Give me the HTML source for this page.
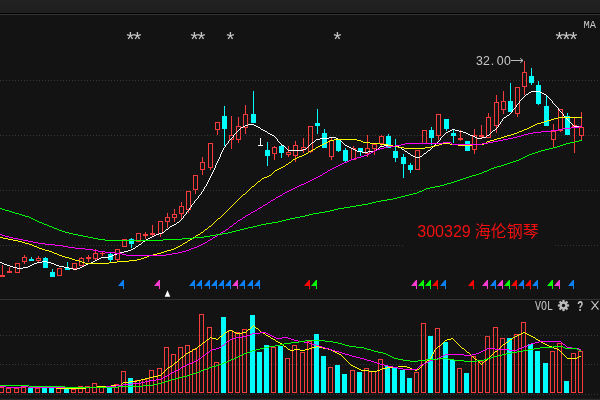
<!DOCTYPE html><html><head><meta charset="utf-8"><title>300329 海伦钢琴</title><style>html,body{margin:0;padding:0;background:#131313;overflow:hidden}svg{display:block}text{font-family:"Liberation Mono","Noto Sans CJK SC",monospace}</style></head><body>
<svg width="600" height="400" viewBox="0 0 600 400">
<defs><linearGradient id="tb" x1="0" y1="0" x2="0" y2="1"><stop offset="0" stop-color="#222"/><stop offset="1" stop-color="#1f1f1f"/></linearGradient></defs>
<rect x="0" y="0" width="600" height="400" fill="#131313"/>
<rect x="0" y="0" width="600" height="13" fill="url(#tb)"/>
<rect x="0" y="13" width="600" height="1" fill="#000"/>
<rect x="0" y="14" width="600" height="1" fill="#323232"/>
<rect x="0" y="299" width="600" height="1" fill="#333"/>
<rect x="0" y="398.7" width="600" height="1.3" fill="#2a2a2a"/>
<g stroke="#363636" stroke-width="1" stroke-dasharray="1 2" shape-rendering="crispEdges">
<path d="M0 80.5H600"/>
<path d="M0 135.5H600"/>
<path d="M0 190.5H600"/>
<path d="M0 245.5H404M555 245.5H600"/>
<path d="M0 335.5H600"/>
<path d="M0 364.5H600"/>
<path d="M0 394.5H600"/>
</g>
<g shape-rendering="crispEdges">
<rect x="2" y="265" width="1" height="12" fill="#f83c3c"/>
<rect x="0" y="275" width="5" height="2" fill="#f83c3c"/>
<rect x="9" y="267" width="1" height="6" fill="#f83c3c"/>
<rect x="7" y="271" width="5" height="2" fill="#f83c3c"/>
<rect x="15.5" y="263.5" width="4" height="9" fill="none" stroke="#f83c3c" stroke-width="1"/>
<rect x="24" y="255" width="1" height="2" fill="#f83c3c"/>
<rect x="24" y="262" width="1" height="2" fill="#f83c3c"/>
<rect x="22.5" y="257.5" width="4" height="4" fill="none" stroke="#f83c3c" stroke-width="1"/>
<rect x="31" y="257" width="1" height="4" fill="#00ffff"/>
<rect x="29" y="259" width="5" height="2" fill="#00ffff"/>
<rect x="38" y="256" width="1" height="2" fill="#f83c3c"/>
<rect x="38" y="261" width="1" height="2" fill="#f83c3c"/>
<rect x="36.5" y="258.5" width="4" height="2" fill="none" stroke="#f83c3c" stroke-width="1"/>
<rect x="45" y="257" width="1" height="11" fill="#00ffff"/>
<rect x="43" y="258" width="5" height="10" fill="#00ffff"/>
<rect x="52" y="269" width="1" height="8" fill="#00ffff"/>
<rect x="50" y="272" width="5" height="5" fill="#00ffff"/>
<rect x="57.5" y="268.5" width="4" height="7" fill="none" stroke="#f83c3c" stroke-width="1"/>
<rect x="67" y="262" width="1" height="8" fill="#00ffff"/>
<rect x="65" y="268" width="5" height="2" fill="#00ffff"/>
<rect x="72.5" y="263.5" width="4" height="5" fill="none" stroke="#f83c3c" stroke-width="1"/>
<rect x="81" y="257" width="1" height="1" fill="#f83c3c"/>
<rect x="79.5" y="258.5" width="4" height="7" fill="none" stroke="#f83c3c" stroke-width="1"/>
<rect x="88" y="255" width="1" height="7" fill="#f83c3c"/>
<rect x="86" y="257" width="5" height="2" fill="#f83c3c"/>
<rect x="95" y="249" width="1" height="4" fill="#f83c3c"/>
<rect x="95" y="259" width="1" height="1" fill="#f83c3c"/>
<rect x="93.5" y="253.5" width="4" height="5" fill="none" stroke="#f83c3c" stroke-width="1"/>
<rect x="102" y="252" width="1" height="4" fill="#f83c3c"/>
<rect x="100" y="253" width="5" height="1" fill="#f83c3c"/>
<rect x="110" y="252" width="1" height="10" fill="#00ffff"/>
<rect x="108" y="254" width="5" height="6" fill="#00ffff"/>
<rect x="117" y="260" width="1" height="1" fill="#f83c3c"/>
<rect x="115.5" y="249.5" width="4" height="10" fill="none" stroke="#f83c3c" stroke-width="1"/>
<rect x="122.5" y="239.5" width="4" height="7" fill="none" stroke="#f83c3c" stroke-width="1"/>
<rect x="131" y="238" width="1" height="10" fill="#00ffff"/>
<rect x="129" y="239" width="5" height="5" fill="#00ffff"/>
<rect x="138" y="242" width="1" height="0" fill="#f83c3c"/>
<rect x="136.5" y="233.5" width="4" height="8" fill="none" stroke="#f83c3c" stroke-width="1"/>
<rect x="145" y="232" width="1" height="7" fill="#f83c3c"/>
<rect x="143" y="234" width="5" height="2" fill="#f83c3c"/>
<rect x="152" y="225" width="1" height="11" fill="#f83c3c"/>
<rect x="150" y="233" width="5" height="2" fill="#f83c3c"/>
<rect x="160" y="234" width="1" height="3" fill="#f83c3c"/>
<rect x="158.5" y="221.5" width="4" height="12" fill="none" stroke="#f83c3c" stroke-width="1"/>
<rect x="167" y="213" width="1" height="4" fill="#f83c3c"/>
<rect x="167" y="222" width="1" height="6" fill="#f83c3c"/>
<rect x="165.5" y="217.5" width="4" height="4" fill="none" stroke="#f83c3c" stroke-width="1"/>
<rect x="174" y="209" width="1" height="5" fill="#f83c3c"/>
<rect x="174" y="218" width="1" height="4" fill="#f83c3c"/>
<rect x="172.5" y="214.5" width="4" height="3" fill="none" stroke="#f83c3c" stroke-width="1"/>
<rect x="181" y="202" width="1" height="4" fill="#f83c3c"/>
<rect x="181" y="214" width="1" height="6" fill="#f83c3c"/>
<rect x="179.5" y="206.5" width="4" height="7" fill="none" stroke="#f83c3c" stroke-width="1"/>
<rect x="188" y="210" width="1" height="3" fill="#f83c3c"/>
<rect x="186.5" y="191.5" width="4" height="18" fill="none" stroke="#f83c3c" stroke-width="1"/>
<rect x="195" y="190" width="1" height="4" fill="#f83c3c"/>
<rect x="193.5" y="175.5" width="4" height="14" fill="none" stroke="#f83c3c" stroke-width="1"/>
<rect x="202" y="157" width="1" height="5" fill="#f83c3c"/>
<rect x="202" y="170" width="1" height="5" fill="#f83c3c"/>
<rect x="200.5" y="162.5" width="4" height="7" fill="none" stroke="#f83c3c" stroke-width="1"/>
<rect x="210" y="168" width="1" height="2" fill="#f83c3c"/>
<rect x="208.5" y="143.5" width="4" height="24" fill="none" stroke="#f83c3c" stroke-width="1"/>
<rect x="217" y="130" width="1" height="5" fill="#f83c3c"/>
<rect x="215.5" y="122.5" width="4" height="7" fill="none" stroke="#f83c3c" stroke-width="1"/>
<rect x="224" y="106" width="1" height="40" fill="#00ffff"/>
<rect x="222" y="116" width="5" height="13" fill="#00ffff"/>
<rect x="231" y="116" width="1" height="19" fill="#f83c3c"/>
<rect x="231" y="140" width="1" height="9" fill="#f83c3c"/>
<rect x="229.5" y="135.5" width="4" height="4" fill="none" stroke="#f83c3c" stroke-width="1"/>
<rect x="238" y="117" width="1" height="9" fill="#f83c3c"/>
<rect x="238" y="140" width="1" height="3" fill="#f83c3c"/>
<rect x="236.5" y="126.5" width="4" height="13" fill="none" stroke="#f83c3c" stroke-width="1"/>
<rect x="245" y="105" width="1" height="9" fill="#f83c3c"/>
<rect x="245" y="128" width="1" height="6" fill="#f83c3c"/>
<rect x="243.5" y="114.5" width="4" height="13" fill="none" stroke="#f83c3c" stroke-width="1"/>
<rect x="253" y="91" width="1" height="32" fill="#00ffff"/>
<rect x="251" y="114" width="5" height="9" fill="#00ffff"/>
<rect x="260" y="138" width="1" height="8" fill="#fff"/>
<rect x="258" y="145" width="5" height="1" fill="#fff"/>
<rect x="267" y="142" width="1" height="24" fill="#00ffff"/>
<rect x="265" y="150" width="5" height="6" fill="#00ffff"/>
<rect x="274" y="146" width="1" height="1" fill="#f83c3c"/>
<rect x="274" y="154" width="1" height="6" fill="#f83c3c"/>
<rect x="272.5" y="147.5" width="4" height="6" fill="none" stroke="#f83c3c" stroke-width="1"/>
<rect x="281" y="145" width="1" height="13" fill="#00ffff"/>
<rect x="279" y="146" width="5" height="7" fill="#00ffff"/>
<rect x="288" y="146" width="1" height="6" fill="#f83c3c"/>
<rect x="288" y="155" width="1" height="2" fill="#f83c3c"/>
<rect x="286.5" y="152.5" width="4" height="2" fill="none" stroke="#f83c3c" stroke-width="1"/>
<rect x="295" y="141" width="1" height="4" fill="#f83c3c"/>
<rect x="295" y="156" width="1" height="6" fill="#f83c3c"/>
<rect x="293.5" y="145.5" width="4" height="10" fill="none" stroke="#f83c3c" stroke-width="1"/>
<rect x="303" y="138" width="1" height="9" fill="#f83c3c"/>
<rect x="303" y="150" width="1" height="3" fill="#f83c3c"/>
<rect x="301.5" y="147.5" width="4" height="2" fill="none" stroke="#f83c3c" stroke-width="1"/>
<rect x="310" y="152" width="1" height="1" fill="#f83c3c"/>
<rect x="308.5" y="126.5" width="4" height="25" fill="none" stroke="#f83c3c" stroke-width="1"/>
<rect x="317" y="109" width="1" height="25" fill="#00ffff"/>
<rect x="315" y="123" width="5" height="3" fill="#00ffff"/>
<rect x="324" y="129" width="1" height="19" fill="#00ffff"/>
<rect x="322" y="133" width="5" height="15" fill="#00ffff"/>
<rect x="331" y="138" width="1" height="2" fill="#f83c3c"/>
<rect x="331" y="157" width="1" height="3" fill="#f83c3c"/>
<rect x="329.5" y="140.5" width="4" height="16" fill="none" stroke="#f83c3c" stroke-width="1"/>
<rect x="338" y="140" width="1" height="12" fill="#00ffff"/>
<rect x="336" y="140" width="5" height="11" fill="#00ffff"/>
<rect x="345" y="148" width="1" height="14" fill="#00ffff"/>
<rect x="343" y="150" width="5" height="11" fill="#00ffff"/>
<rect x="353" y="146" width="1" height="2" fill="#f83c3c"/>
<rect x="351.5" y="148.5" width="4" height="11" fill="none" stroke="#f83c3c" stroke-width="1"/>
<rect x="360" y="148" width="1" height="8" fill="#00ffff"/>
<rect x="358" y="148" width="5" height="4" fill="#00ffff"/>
<rect x="367" y="135" width="1" height="13" fill="#f83c3c"/>
<rect x="367" y="154" width="1" height="3" fill="#f83c3c"/>
<rect x="365.5" y="148.5" width="4" height="5" fill="none" stroke="#f83c3c" stroke-width="1"/>
<rect x="374" y="149" width="1" height="6" fill="#f83c3c"/>
<rect x="372.5" y="144.5" width="4" height="4" fill="none" stroke="#f83c3c" stroke-width="1"/>
<rect x="381" y="135" width="1" height="1" fill="#f83c3c"/>
<rect x="381" y="144" width="1" height="2" fill="#f83c3c"/>
<rect x="379.5" y="136.5" width="4" height="7" fill="none" stroke="#f83c3c" stroke-width="1"/>
<rect x="388" y="134" width="1" height="14" fill="#00ffff"/>
<rect x="386" y="136" width="5" height="12" fill="#00ffff"/>
<rect x="395" y="139" width="1" height="23" fill="#00ffff"/>
<rect x="393" y="151" width="5" height="7" fill="#00ffff"/>
<rect x="403" y="154" width="1" height="24" fill="#00ffff"/>
<rect x="401" y="157" width="5" height="7" fill="#00ffff"/>
<rect x="410" y="163" width="1" height="10" fill="#00ffff"/>
<rect x="408" y="165" width="5" height="5" fill="#00ffff"/>
<rect x="415.5" y="150.5" width="4" height="19" fill="none" stroke="#f83c3c" stroke-width="1"/>
<rect x="422.5" y="130.5" width="4" height="13" fill="none" stroke="#f83c3c" stroke-width="1"/>
<rect x="431" y="127" width="1" height="18" fill="#00ffff"/>
<rect x="429" y="130" width="5" height="8" fill="#00ffff"/>
<rect x="438" y="136" width="1" height="4" fill="#f83c3c"/>
<rect x="436.5" y="114.5" width="4" height="21" fill="none" stroke="#f83c3c" stroke-width="1"/>
<rect x="446" y="119" width="1" height="12" fill="#00ffff"/>
<rect x="444" y="119" width="5" height="10" fill="#00ffff"/>
<rect x="453" y="130" width="1" height="13" fill="#00ffff"/>
<rect x="451" y="133" width="5" height="3" fill="#00ffff"/>
<rect x="460" y="130" width="1" height="11" fill="#f83c3c"/>
<rect x="458" y="138" width="5" height="2" fill="#f83c3c"/>
<rect x="467" y="141" width="1" height="10" fill="#00ffff"/>
<rect x="465" y="141" width="5" height="10" fill="#00ffff"/>
<rect x="474" y="129" width="1" height="6" fill="#f83c3c"/>
<rect x="474" y="150" width="1" height="4" fill="#f83c3c"/>
<rect x="472.5" y="135.5" width="4" height="14" fill="none" stroke="#f83c3c" stroke-width="1"/>
<rect x="481" y="125" width="1" height="14" fill="#f83c3c"/>
<rect x="479" y="135" width="5" height="2" fill="#f83c3c"/>
<rect x="488" y="113" width="1" height="4" fill="#f83c3c"/>
<rect x="486.5" y="117.5" width="4" height="20" fill="none" stroke="#f83c3c" stroke-width="1"/>
<rect x="496" y="95" width="1" height="7" fill="#f83c3c"/>
<rect x="496" y="126" width="1" height="7" fill="#f83c3c"/>
<rect x="494.5" y="102.5" width="4" height="23" fill="none" stroke="#f83c3c" stroke-width="1"/>
<rect x="503" y="91" width="1" height="10" fill="#f83c3c"/>
<rect x="503" y="110" width="1" height="4" fill="#f83c3c"/>
<rect x="501.5" y="101.5" width="4" height="8" fill="none" stroke="#f83c3c" stroke-width="1"/>
<rect x="510" y="83" width="1" height="29" fill="#00ffff"/>
<rect x="508" y="101" width="5" height="11" fill="#00ffff"/>
<rect x="517" y="114" width="1" height="3" fill="#f83c3c"/>
<rect x="515.5" y="87.5" width="4" height="26" fill="none" stroke="#f83c3c" stroke-width="1"/>
<rect x="524" y="61" width="1" height="11" fill="#f83c3c"/>
<rect x="524" y="87" width="1" height="8" fill="#f83c3c"/>
<rect x="522.5" y="72.5" width="4" height="14" fill="none" stroke="#f83c3c" stroke-width="1"/>
<rect x="531" y="68" width="1" height="17" fill="#00ffff"/>
<rect x="529" y="76" width="5" height="7" fill="#00ffff"/>
<rect x="538" y="81" width="1" height="24" fill="#00ffff"/>
<rect x="536" y="85" width="5" height="19" fill="#00ffff"/>
<rect x="546" y="95" width="1" height="31" fill="#00ffff"/>
<rect x="544" y="106" width="5" height="20" fill="#00ffff"/>
<rect x="553" y="124" width="1" height="7" fill="#f83c3c"/>
<rect x="553" y="140" width="1" height="8" fill="#f83c3c"/>
<rect x="551.5" y="131.5" width="4" height="8" fill="none" stroke="#f83c3c" stroke-width="1"/>
<rect x="560" y="131" width="1" height="1" fill="#f83c3c"/>
<rect x="558.5" y="109.5" width="4" height="21" fill="none" stroke="#f83c3c" stroke-width="1"/>
<rect x="567" y="113" width="1" height="22" fill="#00ffff"/>
<rect x="565" y="116" width="5" height="19" fill="#00ffff"/>
<rect x="574" y="118" width="1" height="35" fill="#f83c3c"/>
<rect x="572" y="125" width="5" height="2" fill="#f83c3c"/>
<rect x="581" y="112" width="1" height="15" fill="#f83c3c"/>
<rect x="581" y="136" width="1" height="4" fill="#f83c3c"/>
<rect x="579.5" y="127.5" width="4" height="8" fill="none" stroke="#f83c3c" stroke-width="1"/>
</g>
<g shape-rendering="crispEdges">
<rect x="-0.5" y="387.5" width="4" height="5" fill="none" stroke="#f83c3c" stroke-width="1"/>
<rect x="6.5" y="388.5" width="4" height="4" fill="none" stroke="#f83c3c" stroke-width="1"/>
<rect x="14.5" y="388.5" width="4" height="4" fill="none" stroke="#f83c3c" stroke-width="1"/>
<rect x="21.5" y="387.5" width="4" height="5" fill="none" stroke="#f83c3c" stroke-width="1"/>
<rect x="28" y="388" width="5" height="5" fill="#00ffff"/>
<rect x="35.5" y="388.5" width="4" height="4" fill="none" stroke="#f83c3c" stroke-width="1"/>
<rect x="42" y="388" width="5" height="5" fill="#00ffff"/>
<rect x="49" y="388" width="5" height="5" fill="#00ffff"/>
<rect x="56.5" y="388.5" width="4" height="4" fill="none" stroke="#f83c3c" stroke-width="1"/>
<rect x="64" y="389" width="5" height="4" fill="#00ffff"/>
<rect x="71.5" y="389.5" width="4" height="3" fill="none" stroke="#f83c3c" stroke-width="1"/>
<rect x="78.5" y="386.5" width="4" height="6" fill="none" stroke="#f83c3c" stroke-width="1"/>
<rect x="85.5" y="386.5" width="4" height="6" fill="none" stroke="#f83c3c" stroke-width="1"/>
<rect x="92.5" y="383.5" width="4" height="9" fill="none" stroke="#f83c3c" stroke-width="1"/>
<rect x="99.5" y="386.5" width="4" height="6" fill="none" stroke="#f83c3c" stroke-width="1"/>
<rect x="107" y="387" width="5" height="6" fill="#00ffff"/>
<rect x="114.5" y="384.5" width="4" height="8" fill="none" stroke="#f83c3c" stroke-width="1"/>
<rect x="121.5" y="371.5" width="4" height="21" fill="none" stroke="#f83c3c" stroke-width="1"/>
<rect x="128" y="378" width="5" height="15" fill="#00ffff"/>
<rect x="135.5" y="380.5" width="4" height="12" fill="none" stroke="#f83c3c" stroke-width="1"/>
<rect x="142.5" y="379.5" width="4" height="13" fill="none" stroke="#f83c3c" stroke-width="1"/>
<rect x="149.5" y="370.5" width="4" height="22" fill="none" stroke="#f83c3c" stroke-width="1"/>
<rect x="157.5" y="368.5" width="4" height="24" fill="none" stroke="#f83c3c" stroke-width="1"/>
<rect x="164.5" y="347.5" width="4" height="45" fill="none" stroke="#f83c3c" stroke-width="1"/>
<rect x="171.5" y="354.5" width="4" height="38" fill="none" stroke="#f83c3c" stroke-width="1"/>
<rect x="178.5" y="347.5" width="4" height="45" fill="none" stroke="#f83c3c" stroke-width="1"/>
<rect x="185.5" y="345.5" width="4" height="47" fill="none" stroke="#f83c3c" stroke-width="1"/>
<rect x="192.5" y="349.5" width="4" height="43" fill="none" stroke="#f83c3c" stroke-width="1"/>
<rect x="199.5" y="314.5" width="4" height="78" fill="none" stroke="#f83c3c" stroke-width="1"/>
<rect x="207.5" y="327.5" width="4" height="65" fill="none" stroke="#f83c3c" stroke-width="1"/>
<rect x="214.5" y="362.5" width="4" height="30" fill="none" stroke="#f83c3c" stroke-width="1"/>
<rect x="221" y="317" width="5" height="76" fill="#00ffff"/>
<rect x="228.5" y="330.5" width="4" height="62" fill="none" stroke="#f83c3c" stroke-width="1"/>
<rect x="235.5" y="332.5" width="4" height="60" fill="none" stroke="#f83c3c" stroke-width="1"/>
<rect x="242.5" y="329.5" width="4" height="63" fill="none" stroke="#f83c3c" stroke-width="1"/>
<rect x="250" y="315" width="5" height="78" fill="#00ffff"/>
<rect x="257" y="352" width="5" height="41" fill="#00ffff"/>
<rect x="264" y="345" width="5" height="48" fill="#00ffff"/>
<rect x="271.5" y="347.5" width="4" height="45" fill="none" stroke="#f83c3c" stroke-width="1"/>
<rect x="278" y="346" width="5" height="47" fill="#00ffff"/>
<rect x="285.5" y="358.5" width="4" height="34" fill="none" stroke="#f83c3c" stroke-width="1"/>
<rect x="292.5" y="345.5" width="4" height="47" fill="none" stroke="#f83c3c" stroke-width="1"/>
<rect x="300.5" y="352.5" width="4" height="40" fill="none" stroke="#f83c3c" stroke-width="1"/>
<rect x="307.5" y="341.5" width="4" height="51" fill="none" stroke="#f83c3c" stroke-width="1"/>
<rect x="314" y="334" width="5" height="59" fill="#00ffff"/>
<rect x="321" y="356" width="5" height="37" fill="#00ffff"/>
<rect x="328.5" y="367.5" width="4" height="25" fill="none" stroke="#f83c3c" stroke-width="1"/>
<rect x="335" y="365" width="5" height="28" fill="#00ffff"/>
<rect x="342" y="374" width="5" height="19" fill="#00ffff"/>
<rect x="350.5" y="370.5" width="4" height="22" fill="none" stroke="#f83c3c" stroke-width="1"/>
<rect x="357" y="372" width="5" height="21" fill="#00ffff"/>
<rect x="364.5" y="368.5" width="4" height="24" fill="none" stroke="#f83c3c" stroke-width="1"/>
<rect x="371.5" y="371.5" width="4" height="21" fill="none" stroke="#f83c3c" stroke-width="1"/>
<rect x="378.5" y="359.5" width="4" height="33" fill="none" stroke="#f83c3c" stroke-width="1"/>
<rect x="385" y="366" width="5" height="27" fill="#00ffff"/>
<rect x="392" y="367" width="5" height="26" fill="#00ffff"/>
<rect x="400" y="370" width="5" height="23" fill="#00ffff"/>
<rect x="407" y="378" width="5" height="15" fill="#00ffff"/>
<rect x="414.5" y="372.5" width="4" height="20" fill="none" stroke="#f83c3c" stroke-width="1"/>
<rect x="421.5" y="323.5" width="4" height="69" fill="none" stroke="#f83c3c" stroke-width="1"/>
<rect x="428" y="336" width="5" height="57" fill="#00ffff"/>
<rect x="435.5" y="328.5" width="4" height="64" fill="none" stroke="#f83c3c" stroke-width="1"/>
<rect x="443" y="342" width="5" height="51" fill="#00ffff"/>
<rect x="450" y="360" width="5" height="33" fill="#00ffff"/>
<rect x="457.5" y="368.5" width="4" height="24" fill="none" stroke="#f83c3c" stroke-width="1"/>
<rect x="464" y="373" width="5" height="20" fill="#00ffff"/>
<rect x="471.5" y="356.5" width="4" height="36" fill="none" stroke="#f83c3c" stroke-width="1"/>
<rect x="478.5" y="361.5" width="4" height="31" fill="none" stroke="#f83c3c" stroke-width="1"/>
<rect x="485.5" y="336.5" width="4" height="56" fill="none" stroke="#f83c3c" stroke-width="1"/>
<rect x="493.5" y="327.5" width="4" height="65" fill="none" stroke="#f83c3c" stroke-width="1"/>
<rect x="500.5" y="338.5" width="4" height="54" fill="none" stroke="#f83c3c" stroke-width="1"/>
<rect x="507" y="338" width="5" height="55" fill="#00ffff"/>
<rect x="514.5" y="334.5" width="4" height="58" fill="none" stroke="#f83c3c" stroke-width="1"/>
<rect x="521.5" y="322.5" width="4" height="70" fill="none" stroke="#f83c3c" stroke-width="1"/>
<rect x="528" y="344" width="5" height="49" fill="#00ffff"/>
<rect x="535" y="351" width="5" height="42" fill="#00ffff"/>
<rect x="543" y="363" width="5" height="30" fill="#00ffff"/>
<rect x="550.5" y="351.5" width="4" height="41" fill="none" stroke="#f83c3c" stroke-width="1"/>
<rect x="557.5" y="343.5" width="4" height="49" fill="none" stroke="#f83c3c" stroke-width="1"/>
<rect x="564" y="381" width="5" height="12" fill="#00ffff"/>
<rect x="571.5" y="353.5" width="4" height="39" fill="none" stroke="#f83c3c" stroke-width="1"/>
<rect x="578.5" y="351.5" width="4" height="41" fill="none" stroke="#f83c3c" stroke-width="1"/>
</g>
<g shape-rendering="crispEdges">
<path d="M531 91h9v1h-9zM529 92h2v1h-2zM540 92h2v1h-2zM528 93h1v1h-1zM542 93h2v1h-2zM526 94h2v1h-2zM544 94h2v1h-2zM525 95h1v1h-1zM546 95h1v1h-1zM524 96h1v1h-1zM547 96h1v1h-1zM523 97h1v1h-1zM548 97h1v1h-1zM522 98h1v1h-1zM549 98h1v1h-1zM521 99h1v1h-1zM550 99h1v1h-1zM520 100h1v1h-1zM551 100h1v1h-1zM519 101h1v1h-1zM552 101h1v1h-1zM519 102h1v1h-1zM552 102h1v1h-1zM518 103h1v1h-1zM553 103h1v1h-1zM517 104h1v1h-1zM554 104h1v1h-1zM516 105h1v1h-1zM555 105h1v1h-1zM516 106h1v1h-1zM556 106h1v1h-1zM515 107h1v1h-1zM557 107h1v1h-1zM514 108h1v1h-1zM558 108h1v1h-1zM513 109h1v1h-1zM558 109h1v1h-1zM512 110h1v1h-1zM559 110h1v1h-1zM512 111h1v1h-1zM560 111h1v1h-1zM511 112h1v1h-1zM561 112h1v1h-1zM510 113h1v1h-1zM562 113h1v1h-1zM509 114h1v1h-1zM563 114h1v1h-1zM507 115h2v1h-2zM563 115h1v1h-1zM506 116h1v1h-1zM564 116h1v1h-1zM504 117h2v1h-2zM565 117h1v1h-1zM503 118h1v1h-1zM566 118h1v1h-1zM502 119h1v1h-1zM567 119h1v1h-1zM502 120h1v1h-1zM568 120h1v1h-1zM501 121h1v1h-1zM569 121h1v1h-1zM500 122h1v1h-1zM570 122h1v1h-1zM500 123h1v1h-1zM571 123h1v1h-1zM248 124h6v1h-6zM499 124h1v1h-1zM572 124h1v1h-1zM245 125h3v1h-3zM254 125h2v1h-2zM498 125h1v1h-1zM573 125h1v1h-1zM243 126h2v1h-2zM256 126h2v1h-2zM498 126h1v1h-1zM574 126h8v1h-8zM241 127h2v1h-2zM258 127h2v1h-2zM497 127h1v1h-1zM240 128h1v1h-1zM260 128h1v1h-1zM496 128h1v1h-1zM239 129h1v1h-1zM261 129h2v1h-2zM452 129h3v1h-3zM495 129h1v1h-1zM238 130h1v1h-1zM263 130h2v1h-2zM450 130h2v1h-2zM455 130h4v1h-4zM493 130h2v1h-2zM237 131h1v1h-1zM265 131h2v1h-2zM448 131h2v1h-2zM459 131h4v1h-4zM492 131h1v1h-1zM236 132h1v1h-1zM267 132h1v1h-1zM446 132h2v1h-2zM463 132h3v1h-3zM491 132h1v1h-1zM235 133h1v1h-1zM268 133h2v1h-2zM445 133h1v1h-1zM466 133h2v1h-2zM490 133h1v1h-1zM234 134h1v1h-1zM270 134h2v1h-2zM444 134h1v1h-1zM468 134h2v1h-2zM489 134h1v1h-1zM233 135h1v1h-1zM272 135h2v1h-2zM443 135h1v1h-1zM470 135h3v1h-3zM487 135h2v1h-2zM233 136h1v1h-1zM274 136h1v1h-1zM442 136h1v1h-1zM473 136h2v1h-2zM486 136h1v1h-1zM232 137h1v1h-1zM275 137h1v1h-1zM329 137h7v1h-7zM441 137h1v1h-1zM475 137h2v1h-2zM482 137h4v1h-4zM231 138h1v1h-1zM276 138h1v1h-1zM320 138h9v1h-9zM336 138h2v1h-2zM440 138h1v1h-1zM477 138h5v1h-5zM230 139h1v1h-1zM277 139h1v1h-1zM316 139h4v1h-4zM338 139h2v1h-2zM440 139h1v1h-1zM229 140h1v1h-1zM277 140h1v1h-1zM315 140h1v1h-1zM340 140h1v1h-1zM439 140h1v1h-1zM228 141h1v1h-1zM278 141h1v1h-1zM314 141h1v1h-1zM341 141h1v1h-1zM438 141h1v1h-1zM228 142h1v1h-1zM279 142h1v1h-1zM312 142h2v1h-2zM342 142h1v1h-1zM437 142h1v1h-1zM227 143h1v1h-1zM280 143h1v1h-1zM311 143h1v1h-1zM343 143h1v1h-1zM436 143h1v1h-1zM226 144h1v1h-1zM281 144h1v1h-1zM310 144h1v1h-1zM344 144h1v1h-1zM435 144h1v1h-1zM225 145h1v1h-1zM282 145h2v1h-2zM309 145h1v1h-1zM345 145h2v1h-2zM384 145h8v1h-8zM434 145h1v1h-1zM225 146h1v1h-1zM284 146h1v1h-1zM308 146h1v1h-1zM347 146h2v1h-2zM380 146h4v1h-4zM392 146h7v1h-7zM433 146h1v1h-1zM224 147h1v1h-1zM285 147h1v1h-1zM307 147h1v1h-1zM349 147h2v1h-2zM379 147h1v1h-1zM399 147h2v1h-2zM432 147h1v1h-1zM223 148h1v1h-1zM286 148h1v1h-1zM306 148h1v1h-1zM351 148h2v1h-2zM378 148h1v1h-1zM401 148h1v1h-1zM431 148h1v1h-1zM223 149h1v1h-1zM287 149h1v1h-1zM303 149h3v1h-3zM353 149h2v1h-2zM376 149h2v1h-2zM402 149h2v1h-2zM430 149h1v1h-1zM222 150h1v1h-1zM288 150h15v1h-15zM355 150h2v1h-2zM375 150h1v1h-1zM404 150h1v1h-1zM428 150h2v1h-2zM222 151h1v1h-1zM357 151h5v1h-5zM368 151h7v1h-7zM405 151h2v1h-2zM427 151h1v1h-1zM221 152h1v1h-1zM362 152h6v1h-6zM407 152h1v1h-1zM426 152h1v1h-1zM221 153h1v1h-1zM408 153h2v1h-2zM424 153h2v1h-2zM220 154h1v1h-1zM410 154h1v1h-1zM423 154h1v1h-1zM220 155h1v1h-1zM411 155h2v1h-2zM422 155h1v1h-1zM220 156h1v1h-1zM413 156h2v1h-2zM420 156h2v1h-2zM219 157h1v1h-1zM415 157h5v1h-5zM219 158h1v1h-1zM218 159h1v1h-1zM218 160h1v1h-1zM217 161h1v1h-1zM217 162h1v1h-1zM216 163h1v1h-1zM216 164h1v1h-1zM215 165h1v1h-1zM215 166h1v1h-1zM215 167h1v1h-1zM214 168h1v1h-1zM214 169h1v1h-1zM213 170h1v1h-1zM213 171h1v1h-1zM212 172h1v1h-1zM212 173h1v1h-1zM211 174h1v1h-1zM211 175h1v1h-1zM210 176h1v1h-1zM210 177h1v1h-1zM209 178h1v1h-1zM209 179h1v1h-1zM208 180h1v1h-1zM208 181h1v1h-1zM207 182h1v1h-1zM207 183h1v1h-1zM206 184h1v1h-1zM206 185h1v1h-1zM205 186h1v1h-1zM204 187h1v1h-1zM204 188h1v1h-1zM203 189h1v1h-1zM203 190h1v1h-1zM202 191h1v1h-1zM201 192h1v1h-1zM201 193h1v1h-1zM200 194h1v1h-1zM199 195h1v1h-1zM198 196h1v1h-1zM198 197h1v1h-1zM197 198h1v1h-1zM196 199h1v1h-1zM195 200h1v1h-1zM194 201h1v1h-1zM194 202h1v1h-1zM193 203h1v1h-1zM192 204h1v1h-1zM191 205h1v1h-1zM191 206h1v1h-1zM190 207h1v1h-1zM189 208h1v1h-1zM189 209h1v1h-1zM188 210h1v1h-1zM187 211h1v1h-1zM186 212h1v1h-1zM186 213h1v1h-1zM185 214h1v1h-1zM184 215h1v1h-1zM183 216h1v1h-1zM183 217h1v1h-1zM182 218h1v1h-1zM181 219h1v1h-1zM180 220h1v1h-1zM179 221h1v1h-1zM177 222h2v1h-2zM176 223h1v1h-1zM174 224h2v1h-2zM172 225h2v1h-2zM170 226h2v1h-2zM169 227h1v1h-1zM168 228h1v1h-1zM166 229h2v1h-2zM165 230h1v1h-1zM164 231h1v1h-1zM162 232h2v1h-2zM159 233h3v1h-3zM156 234h3v1h-3zM154 235h2v1h-2zM152 236h2v1h-2zM150 237h2v1h-2zM148 238h2v1h-2zM146 239h2v1h-2zM145 240h1v1h-1zM143 241h2v1h-2zM142 242h1v1h-1zM141 243h1v1h-1zM139 244h2v1h-2zM138 245h1v1h-1zM136 246h2v1h-2zM135 247h1v1h-1zM133 248h2v1h-2zM131 249h2v1h-2zM128 250h3v1h-3zM124 251h4v1h-4zM120 252h4v1h-4zM117 253h3v1h-3zM114 254h3v1h-3zM112 255h2v1h-2zM109 256h3v1h-3zM101 257h8v1h-8zM99 258h2v1h-2zM97 259h2v1h-2zM95 260h2v1h-2zM42 261h5v1h-5zM93 261h2v1h-2zM0 262h2v1h-2zM37 262h5v1h-5zM47 262h4v1h-4zM91 262h2v1h-2zM2 263h2v1h-2zM34 263h3v1h-3zM51 263h3v1h-3zM88 263h3v1h-3zM4 264h3v1h-3zM32 264h2v1h-2zM54 264h2v1h-2zM86 264h2v1h-2zM7 265h3v1h-3zM30 265h2v1h-2zM56 265h3v1h-3zM84 265h2v1h-2zM10 266h3v1h-3zM28 266h2v1h-2zM59 266h5v1h-5zM82 266h2v1h-2zM13 267h4v1h-4zM23 267h5v1h-5zM64 267h5v1h-5zM80 267h2v1h-2zM17 268h6v1h-6zM69 268h4v1h-4zM77 268h3v1h-3zM73 269h4v1h-4z" fill="#fff"/>
<path d="M558 117h24v1h-24zM554 118h4v1h-4zM551 119h3v1h-3zM547 120h4v1h-4zM544 121h3v1h-3zM541 122h3v1h-3zM537 123h4v1h-4zM535 124h2v1h-2zM533 125h2v1h-2zM531 126h2v1h-2zM529 127h2v1h-2zM527 128h2v1h-2zM524 129h3v1h-3zM522 130h2v1h-2zM519 131h3v1h-3zM517 132h2v1h-2zM514 133h3v1h-3zM511 134h3v1h-3zM507 135h4v1h-4zM504 136h3v1h-3zM501 137h3v1h-3zM497 138h4v1h-4zM334 139h23v1h-23zM494 139h3v1h-3zM330 140h4v1h-4zM357 140h4v1h-4zM490 140h4v1h-4zM328 141h2v1h-2zM361 141h2v1h-2zM487 141h3v1h-3zM326 142h2v1h-2zM363 142h7v1h-7zM486 142h1v1h-1zM324 143h2v1h-2zM370 143h10v1h-10zM442 143h8v1h-8zM484 143h2v1h-2zM322 144h2v1h-2zM380 144h8v1h-8zM439 144h3v1h-3zM450 144h8v1h-8zM472 144h12v1h-12zM320 145h2v1h-2zM388 145h5v1h-5zM435 145h4v1h-4zM458 145h14v1h-14zM318 146h2v1h-2zM393 146h5v1h-5zM431 146h4v1h-4zM316 147h2v1h-2zM398 147h6v1h-6zM425 147h6v1h-6zM315 148h1v1h-1zM404 148h21v1h-21zM313 149h2v1h-2zM311 150h2v1h-2zM309 151h2v1h-2zM308 152h1v1h-1zM306 153h2v1h-2zM304 154h2v1h-2zM302 155h2v1h-2zM299 156h3v1h-3zM297 157h2v1h-2zM295 158h2v1h-2zM293 159h2v1h-2zM292 160h1v1h-1zM291 161h1v1h-1zM289 162h2v1h-2zM288 163h1v1h-1zM286 164h2v1h-2zM285 165h1v1h-1zM283 166h2v1h-2zM281 167h2v1h-2zM279 168h2v1h-2zM277 169h2v1h-2zM275 170h2v1h-2zM274 171h1v1h-1zM273 172h1v1h-1zM272 173h1v1h-1zM271 174h1v1h-1zM269 175h2v1h-2zM267 176h2v1h-2zM264 177h3v1h-3zM262 178h2v1h-2zM261 179h1v1h-1zM260 180h1v1h-1zM258 181h2v1h-2zM257 182h1v1h-1zM256 183h1v1h-1zM255 184h1v1h-1zM254 185h1v1h-1zM252 186h2v1h-2zM251 187h1v1h-1zM250 188h1v1h-1zM249 189h1v1h-1zM248 190h1v1h-1zM247 191h1v1h-1zM246 192h1v1h-1zM245 193h1v1h-1zM243 194h2v1h-2zM242 195h1v1h-1zM241 196h1v1h-1zM240 197h1v1h-1zM239 198h1v1h-1zM238 199h1v1h-1zM237 200h1v1h-1zM236 201h1v1h-1zM235 202h1v1h-1zM234 203h1v1h-1zM233 204h1v1h-1zM232 205h1v1h-1zM231 206h1v1h-1zM230 207h1v1h-1zM229 208h1v1h-1zM228 209h1v1h-1zM227 210h1v1h-1zM226 211h1v1h-1zM225 212h1v1h-1zM224 213h1v1h-1zM223 214h1v1h-1zM222 215h1v1h-1zM221 216h1v1h-1zM220 217h1v1h-1zM218 218h2v1h-2zM217 219h1v1h-1zM216 220h1v1h-1zM215 221h1v1h-1zM214 222h1v1h-1zM213 223h1v1h-1zM212 224h1v1h-1zM211 225h1v1h-1zM209 226h2v1h-2zM208 227h1v1h-1zM207 228h1v1h-1zM205 229h2v1h-2zM204 230h1v1h-1zM203 231h1v1h-1zM201 232h2v1h-2zM200 233h1v1h-1zM198 234h2v1h-2zM196 235h2v1h-2zM195 236h1v1h-1zM0 237h3v1h-3zM193 237h2v1h-2zM3 238h5v1h-5zM192 238h1v1h-1zM8 239h5v1h-5zM190 239h2v1h-2zM13 240h5v1h-5zM188 240h2v1h-2zM18 241h4v1h-4zM187 241h1v1h-1zM22 242h3v1h-3zM185 242h2v1h-2zM25 243h4v1h-4zM183 243h2v1h-2zM29 244h3v1h-3zM182 244h1v1h-1zM32 245h2v1h-2zM180 245h2v1h-2zM34 246h3v1h-3zM178 246h2v1h-2zM37 247h2v1h-2zM176 247h2v1h-2zM39 248h3v1h-3zM174 248h2v1h-2zM42 249h3v1h-3zM171 249h3v1h-3zM45 250h4v1h-4zM167 250h4v1h-4zM49 251h3v1h-3zM164 251h3v1h-3zM52 252h2v1h-2zM161 252h3v1h-3zM54 253h3v1h-3zM157 253h4v1h-4zM57 254h2v1h-2zM153 254h4v1h-4zM59 255h3v1h-3zM149 255h4v1h-4zM62 256h3v1h-3zM147 256h2v1h-2zM65 257h4v1h-4zM144 257h3v1h-3zM69 258h3v1h-3zM141 258h3v1h-3zM72 259h3v1h-3zM137 259h4v1h-4zM75 260h4v1h-4zM129 260h8v1h-8zM79 261h3v1h-3zM117 261h12v1h-12zM82 262h3v1h-3zM109 262h8v1h-8zM85 263h24v1h-24z" fill="#ffff00"/>
<path d="M579 126h3v1h-3zM571 127h8v1h-8zM563 128h8v1h-8zM558 129h5v1h-5zM551 130h7v1h-7zM541 131h10v1h-10zM533 132h8v1h-8zM528 133h5v1h-5zM524 134h4v1h-4zM521 135h3v1h-3zM517 136h4v1h-4zM513 137h4v1h-4zM508 138h5v1h-5zM503 139h5v1h-5zM498 140h5v1h-5zM493 141h5v1h-5zM443 142h8v1h-8zM488 142h5v1h-5zM405 143h38v1h-38zM451 143h1v1h-1zM482 143h6v1h-6zM401 144h4v1h-4zM452 144h30v1h-30zM395 145h6v1h-6zM388 146h7v1h-7zM384 147h4v1h-4zM380 148h4v1h-4zM377 149h3v1h-3zM375 150h2v1h-2zM373 151h2v1h-2zM371 152h2v1h-2zM369 153h2v1h-2zM367 154h2v1h-2zM364 155h3v1h-3zM361 156h3v1h-3zM357 157h4v1h-4zM354 158h3v1h-3zM351 159h3v1h-3zM349 160h2v1h-2zM347 161h2v1h-2zM344 162h3v1h-3zM342 163h2v1h-2zM340 164h2v1h-2zM338 165h2v1h-2zM336 166h2v1h-2zM334 167h2v1h-2zM332 168h2v1h-2zM330 169h2v1h-2zM328 170h2v1h-2zM327 171h1v1h-1zM325 172h2v1h-2zM323 173h2v1h-2zM322 174h1v1h-1zM320 175h2v1h-2zM318 176h2v1h-2zM316 177h2v1h-2zM314 178h2v1h-2zM312 179h2v1h-2zM310 180h2v1h-2zM308 181h2v1h-2zM306 182h2v1h-2zM304 183h2v1h-2zM301 184h3v1h-3zM299 185h2v1h-2zM297 186h2v1h-2zM295 187h2v1h-2zM293 188h2v1h-2zM291 189h2v1h-2zM289 190h2v1h-2zM287 191h2v1h-2zM285 192h2v1h-2zM283 193h2v1h-2zM282 194h1v1h-1zM280 195h2v1h-2zM278 196h2v1h-2zM276 197h2v1h-2zM275 198h1v1h-1zM273 199h2v1h-2zM271 200h2v1h-2zM270 201h1v1h-1zM268 202h2v1h-2zM267 203h1v1h-1zM265 204h2v1h-2zM263 205h2v1h-2zM262 206h1v1h-1zM260 207h2v1h-2zM258 208h2v1h-2zM257 209h1v1h-1zM255 210h2v1h-2zM253 211h2v1h-2zM251 212h2v1h-2zM250 213h1v1h-1zM248 214h2v1h-2zM246 215h2v1h-2zM245 216h1v1h-1zM243 217h2v1h-2zM242 218h1v1h-1zM240 219h2v1h-2zM238 220h2v1h-2zM237 221h1v1h-1zM236 222h1v1h-1zM234 223h2v1h-2zM233 224h1v1h-1zM232 225h1v1h-1zM230 226h2v1h-2zM229 227h1v1h-1zM228 228h1v1h-1zM226 229h2v1h-2zM225 230h1v1h-1zM223 231h2v1h-2zM221 232h2v1h-2zM220 233h1v1h-1zM0 234h2v1h-2zM218 234h2v1h-2zM2 235h3v1h-3zM217 235h1v1h-1zM5 236h4v1h-4zM215 236h2v1h-2zM9 237h4v1h-4zM213 237h2v1h-2zM13 238h5v1h-5zM212 238h1v1h-1zM18 239h5v1h-5zM210 239h2v1h-2zM23 240h5v1h-5zM208 240h2v1h-2zM28 241h5v1h-5zM207 241h1v1h-1zM33 242h5v1h-5zM205 242h2v1h-2zM38 243h7v1h-7zM203 243h2v1h-2zM45 244h10v1h-10zM201 244h2v1h-2zM55 245h8v1h-8zM199 245h2v1h-2zM63 246h5v1h-5zM197 246h2v1h-2zM68 247h7v1h-7zM194 247h3v1h-3zM75 248h10v1h-10zM191 248h3v1h-3zM85 249h8v1h-8zM189 249h2v1h-2zM93 250h5v1h-5zM186 250h3v1h-3zM98 251h7v1h-7zM182 251h4v1h-4zM105 252h10v1h-10zM178 252h4v1h-4zM115 253h7v1h-7zM172 253h6v1h-6zM122 254h4v1h-4zM166 254h6v1h-6zM126 255h40v1h-40z" fill="#ff00ff"/>
<path d="M579 140h3v1h-3zM575 141h4v1h-4zM570 142h5v1h-5zM566 143h4v1h-4zM563 144h3v1h-3zM560 145h3v1h-3zM557 146h3v1h-3zM553 147h4v1h-4zM549 148h4v1h-4zM545 149h4v1h-4zM541 150h4v1h-4zM538 151h3v1h-3zM535 152h3v1h-3zM532 153h3v1h-3zM529 154h3v1h-3zM527 155h2v1h-2zM525 156h2v1h-2zM523 157h2v1h-2zM521 158h2v1h-2zM519 159h2v1h-2zM516 160h3v1h-3zM513 161h3v1h-3zM510 162h3v1h-3zM507 163h3v1h-3zM504 164h3v1h-3zM501 165h3v1h-3zM497 166h4v1h-4zM494 167h3v1h-3zM491 168h3v1h-3zM489 169h2v1h-2zM487 170h2v1h-2zM484 171h3v1h-3zM482 172h2v1h-2zM479 173h3v1h-3zM476 174h3v1h-3zM472 175h4v1h-4zM469 176h3v1h-3zM466 177h3v1h-3zM463 178h3v1h-3zM460 179h3v1h-3zM457 180h3v1h-3zM454 181h3v1h-3zM451 182h3v1h-3zM447 183h4v1h-4zM444 184h3v1h-3zM440 185h4v1h-4zM435 186h5v1h-5zM430 187h5v1h-5zM426 188h4v1h-4zM424 189h2v1h-2zM422 190h2v1h-2zM419 191h3v1h-3zM417 192h2v1h-2zM413 193h4v1h-4zM409 194h4v1h-4zM405 195h4v1h-4zM401 196h4v1h-4zM397 197h4v1h-4zM393 198h4v1h-4zM387 199h6v1h-6zM381 200h6v1h-6zM376 201h5v1h-5zM372 202h4v1h-4zM368 203h4v1h-4zM362 204h6v1h-6zM356 205h6v1h-6zM350 206h6v1h-6zM344 207h6v1h-6zM0 208h2v1h-2zM338 208h6v1h-6zM2 209h3v1h-3zM334 209h4v1h-4zM5 210h4v1h-4zM330 210h4v1h-4zM9 211h3v1h-3zM325 211h5v1h-5zM12 212h3v1h-3zM319 212h6v1h-6zM15 213h4v1h-4zM313 213h6v1h-6zM19 214h3v1h-3zM309 214h4v1h-4zM22 215h3v1h-3zM305 215h4v1h-4zM25 216h4v1h-4zM300 216h5v1h-5zM29 217h2v1h-2zM295 217h5v1h-5zM31 218h2v1h-2zM290 218h5v1h-5zM33 219h2v1h-2zM286 219h4v1h-4zM35 220h2v1h-2zM282 220h4v1h-4zM37 221h2v1h-2zM278 221h4v1h-4zM39 222h3v1h-3zM272 222h6v1h-6zM42 223h2v1h-2zM266 223h6v1h-6zM44 224h3v1h-3zM261 224h5v1h-5zM47 225h2v1h-2zM257 225h4v1h-4zM49 226h3v1h-3zM253 226h4v1h-4zM52 227h2v1h-2zM248 227h5v1h-5zM54 228h3v1h-3zM244 228h4v1h-4zM57 229h2v1h-2zM240 229h4v1h-4zM59 230h3v1h-3zM236 230h4v1h-4zM62 231h3v1h-3zM232 231h4v1h-4zM65 232h4v1h-4zM228 232h4v1h-4zM69 233h4v1h-4zM222 233h6v1h-6zM73 234h5v1h-5zM216 234h6v1h-6zM78 235h5v1h-5zM210 235h6v1h-6zM83 236h5v1h-5zM204 236h6v1h-6zM88 237h5v1h-5zM194 237h10v1h-10zM93 238h5v1h-5zM182 238h12v1h-12zM98 239h7v1h-7zM163 239h19v1h-19zM105 240h58v1h-58z" fill="#00ff00"/>
<path d="M253 325h1v1h-1zM252 326h1v1h-1zM254 326h1v1h-1zM251 327h1v1h-1zM255 327h1v1h-1zM250 328h1v1h-1zM256 328h2v1h-2zM248 329h2v1h-2zM258 329h1v1h-1zM229 330h3v1h-3zM247 330h1v1h-1zM259 330h1v1h-1zM227 331h2v1h-2zM232 331h2v1h-2zM246 331h1v1h-1zM260 331h1v1h-1zM225 332h2v1h-2zM234 332h2v1h-2zM242 332h4v1h-4zM261 332h2v1h-2zM523 332h2v1h-2zM224 333h1v1h-1zM236 333h6v1h-6zM263 333h2v1h-2zM521 333h2v1h-2zM525 333h2v1h-2zM223 334h1v1h-1zM265 334h1v1h-1zM519 334h2v1h-2zM527 334h2v1h-2zM222 335h1v1h-1zM266 335h2v1h-2zM517 335h2v1h-2zM529 335h2v1h-2zM220 336h2v1h-2zM268 336h2v1h-2zM515 336h2v1h-2zM531 336h2v1h-2zM210 337h2v1h-2zM219 337h1v1h-1zM270 337h1v1h-1zM513 337h2v1h-2zM533 337h2v1h-2zM209 338h1v1h-1zM212 338h4v1h-4zM218 338h1v1h-1zM271 338h2v1h-2zM451 338h2v1h-2zM512 338h1v1h-1zM535 338h1v1h-1zM207 339h2v1h-2zM216 339h2v1h-2zM273 339h2v1h-2zM447 339h4v1h-4zM453 339h1v1h-1zM510 339h2v1h-2zM536 339h2v1h-2zM206 340h1v1h-1zM275 340h1v1h-1zM445 340h2v1h-2zM454 340h1v1h-1zM509 340h1v1h-1zM538 340h2v1h-2zM205 341h1v1h-1zM276 341h2v1h-2zM444 341h1v1h-1zM455 341h1v1h-1zM508 341h1v1h-1zM540 341h1v1h-1zM203 342h2v1h-2zM278 342h2v1h-2zM443 342h1v1h-1zM456 342h1v1h-1zM506 342h2v1h-2zM541 342h2v1h-2zM202 343h1v1h-1zM280 343h2v1h-2zM442 343h1v1h-1zM457 343h1v1h-1zM505 343h1v1h-1zM543 343h2v1h-2zM201 344h1v1h-1zM282 344h1v1h-1zM441 344h1v1h-1zM458 344h1v1h-1zM503 344h2v1h-2zM545 344h2v1h-2zM199 345h2v1h-2zM283 345h1v1h-1zM440 345h1v1h-1zM459 345h1v1h-1zM502 345h1v1h-1zM547 345h2v1h-2zM198 346h1v1h-1zM284 346h2v1h-2zM316 346h3v1h-3zM438 346h2v1h-2zM460 346h1v1h-1zM501 346h1v1h-1zM549 346h3v1h-3zM197 347h1v1h-1zM286 347h1v1h-1zM312 347h4v1h-4zM319 347h4v1h-4zM437 347h1v1h-1zM461 347h1v1h-1zM500 347h1v1h-1zM552 347h2v1h-2zM195 348h2v1h-2zM287 348h1v1h-1zM309 348h3v1h-3zM323 348h5v1h-5zM436 348h1v1h-1zM462 348h2v1h-2zM499 348h1v1h-1zM554 348h3v1h-3zM193 349h2v1h-2zM288 349h2v1h-2zM294 349h6v1h-6zM305 349h4v1h-4zM328 349h3v1h-3zM435 349h1v1h-1zM464 349h1v1h-1zM498 349h1v1h-1zM557 349h2v1h-2zM192 350h1v1h-1zM290 350h4v1h-4zM300 350h5v1h-5zM331 350h2v1h-2zM434 350h1v1h-1zM465 350h1v1h-1zM497 350h1v1h-1zM559 350h1v1h-1zM190 351h2v1h-2zM333 351h2v1h-2zM434 351h1v1h-1zM466 351h1v1h-1zM495 351h2v1h-2zM560 351h1v1h-1zM188 352h2v1h-2zM335 352h2v1h-2zM433 352h1v1h-1zM467 352h2v1h-2zM494 352h1v1h-1zM561 352h1v1h-1zM186 353h2v1h-2zM337 353h2v1h-2zM433 353h1v1h-1zM469 353h1v1h-1zM493 353h1v1h-1zM562 353h1v1h-1zM185 354h1v1h-1zM339 354h2v1h-2zM432 354h1v1h-1zM470 354h1v1h-1zM492 354h1v1h-1zM563 354h1v1h-1zM184 355h1v1h-1zM341 355h1v1h-1zM432 355h1v1h-1zM471 355h1v1h-1zM491 355h1v1h-1zM564 355h1v1h-1zM183 356h1v1h-1zM342 356h1v1h-1zM431 356h1v1h-1zM472 356h1v1h-1zM490 356h1v1h-1zM565 356h1v1h-1zM579 356h2v1h-2zM181 357h2v1h-2zM343 357h1v1h-1zM431 357h1v1h-1zM473 357h1v1h-1zM489 357h1v1h-1zM566 357h1v1h-1zM577 357h2v1h-2zM180 358h1v1h-1zM344 358h1v1h-1zM430 358h1v1h-1zM474 358h1v1h-1zM488 358h1v1h-1zM567 358h10v1h-10zM179 359h1v1h-1zM345 359h1v1h-1zM429 359h1v1h-1zM475 359h2v1h-2zM487 359h1v1h-1zM178 360h1v1h-1zM346 360h1v1h-1zM427 360h2v1h-2zM477 360h1v1h-1zM485 360h2v1h-2zM177 361h1v1h-1zM347 361h1v1h-1zM426 361h1v1h-1zM478 361h1v1h-1zM484 361h1v1h-1zM175 362h2v1h-2zM348 362h1v1h-1zM425 362h1v1h-1zM479 362h1v1h-1zM483 362h1v1h-1zM174 363h1v1h-1zM349 363h1v1h-1zM424 363h1v1h-1zM480 363h1v1h-1zM482 363h1v1h-1zM173 364h1v1h-1zM350 364h1v1h-1zM423 364h1v1h-1zM481 364h1v1h-1zM172 365h1v1h-1zM351 365h2v1h-2zM422 365h1v1h-1zM170 366h2v1h-2zM353 366h2v1h-2zM398 366h9v1h-9zM421 366h1v1h-1zM168 367h2v1h-2zM355 367h2v1h-2zM387 367h11v1h-11zM407 367h3v1h-3zM420 367h1v1h-1zM167 368h1v1h-1zM357 368h2v1h-2zM382 368h5v1h-5zM410 368h2v1h-2zM419 368h1v1h-1zM166 369h1v1h-1zM359 369h2v1h-2zM380 369h2v1h-2zM412 369h3v1h-3zM417 369h2v1h-2zM165 370h1v1h-1zM361 370h8v1h-8zM377 370h3v1h-3zM415 370h2v1h-2zM164 371h1v1h-1zM369 371h8v1h-8zM163 372h1v1h-1zM162 373h1v1h-1zM161 374h1v1h-1zM158 375h3v1h-3zM153 376h5v1h-5zM149 377h4v1h-4zM145 378h4v1h-4zM141 379h4v1h-4zM137 380h4v1h-4zM129 381h8v1h-8zM123 382h6v1h-6zM122 383h1v1h-1zM121 384h1v1h-1zM111 385h10v1h-10zM0 386h6v1h-6zM21 386h7v1h-7zM97 386h14v1h-14zM6 387h15v1h-15zM28 387h28v1h-28zM86 387h11v1h-11zM56 388h30v1h-30z" fill="#ffff00"/>
<path d="M260 332h6v1h-6zM252 333h8v1h-8zM266 333h2v1h-2zM250 334h2v1h-2zM268 334h2v1h-2zM247 335h3v1h-3zM270 335h2v1h-2zM242 336h5v1h-5zM272 336h2v1h-2zM236 337h6v1h-6zM274 337h2v1h-2zM282 337h6v1h-6zM232 338h4v1h-4zM276 338h6v1h-6zM288 338h3v1h-3zM230 339h2v1h-2zM291 339h3v1h-3zM229 340h1v1h-1zM294 340h4v1h-4zM227 341h2v1h-2zM298 341h6v1h-6zM539 341h22v1h-22zM226 342h1v1h-1zM304 342h5v1h-5zM535 342h4v1h-4zM561 342h1v1h-1zM225 343h1v1h-1zM309 343h3v1h-3zM531 343h4v1h-4zM562 343h1v1h-1zM224 344h1v1h-1zM312 344h4v1h-4zM529 344h2v1h-2zM563 344h2v1h-2zM222 345h2v1h-2zM316 345h3v1h-3zM527 345h2v1h-2zM565 345h1v1h-1zM221 346h1v1h-1zM319 346h3v1h-3zM524 346h3v1h-3zM566 346h1v1h-1zM219 347h2v1h-2zM322 347h3v1h-3zM522 347h2v1h-2zM567 347h5v1h-5zM216 348h3v1h-3zM325 348h4v1h-4zM487 348h8v1h-8zM519 348h3v1h-3zM572 348h7v1h-7zM212 349h4v1h-4zM329 349h3v1h-3zM485 349h2v1h-2zM495 349h14v1h-14zM517 349h2v1h-2zM579 349h2v1h-2zM210 350h2v1h-2zM332 350h3v1h-3zM483 350h2v1h-2zM509 350h8v1h-8zM209 351h1v1h-1zM335 351h4v1h-4zM481 351h2v1h-2zM207 352h2v1h-2zM339 352h3v1h-3zM479 352h2v1h-2zM206 353h1v1h-1zM342 353h3v1h-3zM476 353h3v1h-3zM205 354h1v1h-1zM345 354h4v1h-4zM445 354h19v1h-19zM472 354h4v1h-4zM203 355h2v1h-2zM349 355h3v1h-3zM443 355h2v1h-2zM464 355h8v1h-8zM202 356h1v1h-1zM352 356h4v1h-4zM441 356h2v1h-2zM201 357h1v1h-1zM356 357h4v1h-4zM439 357h2v1h-2zM199 358h2v1h-2zM360 358h4v1h-4zM437 358h2v1h-2zM198 359h1v1h-1zM364 359h3v1h-3zM433 359h4v1h-4zM196 360h2v1h-2zM367 360h4v1h-4zM430 360h3v1h-3zM194 361h2v1h-2zM371 361h3v1h-3zM428 361h2v1h-2zM192 362h2v1h-2zM374 362h3v1h-3zM426 362h2v1h-2zM189 363h3v1h-3zM377 363h3v1h-3zM424 363h2v1h-2zM187 364h2v1h-2zM380 364h4v1h-4zM422 364h2v1h-2zM185 365h2v1h-2zM384 365h4v1h-4zM420 365h2v1h-2zM183 366h2v1h-2zM388 366h5v1h-5zM419 366h1v1h-1zM181 367h2v1h-2zM393 367h5v1h-5zM418 367h1v1h-1zM180 368h1v1h-1zM398 368h5v1h-5zM417 368h1v1h-1zM178 369h2v1h-2zM403 369h14v1h-14zM176 370h2v1h-2zM174 371h2v1h-2zM172 372h2v1h-2zM170 373h2v1h-2zM169 374h1v1h-1zM167 375h2v1h-2zM165 376h2v1h-2zM163 377h2v1h-2zM161 378h2v1h-2zM156 379h5v1h-5zM149 380h7v1h-7zM145 381h4v1h-4zM141 382h4v1h-4zM132 383h9v1h-9zM123 384h9v1h-9zM116 385h7v1h-7zM0 386h6v1h-6zM21 386h7v1h-7zM106 386h10v1h-10zM6 387h15v1h-15zM28 387h78v1h-78z" fill="#ff00ff"/>
<path d="M305 340h20v1h-20zM299 341h6v1h-6zM325 341h8v1h-8zM291 342h8v1h-8zM333 342h5v1h-5zM284 343h7v1h-7zM338 343h4v1h-4zM280 344h4v1h-4zM342 344h3v1h-3zM275 345h5v1h-5zM345 345h4v1h-4zM269 346h6v1h-6zM349 346h7v1h-7zM553 346h10v1h-10zM264 347h5v1h-5zM356 347h8v1h-8zM540 347h13v1h-13zM563 347h2v1h-2zM260 348h4v1h-4zM364 348h3v1h-3zM534 348h6v1h-6zM565 348h12v1h-12zM256 349h4v1h-4zM367 349h4v1h-4zM528 349h6v1h-6zM577 349h2v1h-2zM252 350h4v1h-4zM371 350h3v1h-3zM523 350h5v1h-5zM579 350h2v1h-2zM250 351h2v1h-2zM374 351h4v1h-4zM517 351h6v1h-6zM247 352h3v1h-3zM378 352h5v1h-5zM511 352h6v1h-6zM244 353h3v1h-3zM383 353h3v1h-3zM506 353h5v1h-5zM242 354h2v1h-2zM386 354h2v1h-2zM502 354h4v1h-4zM240 355h2v1h-2zM388 355h2v1h-2zM498 355h4v1h-4zM238 356h2v1h-2zM390 356h2v1h-2zM494 356h4v1h-4zM236 357h2v1h-2zM392 357h2v1h-2zM491 357h3v1h-3zM234 358h2v1h-2zM394 358h4v1h-4zM438 358h10v1h-10zM487 358h4v1h-4zM231 359h3v1h-3zM398 359h5v1h-5zM426 359h12v1h-12zM448 359h6v1h-6zM484 359h3v1h-3zM229 360h2v1h-2zM403 360h7v1h-7zM418 360h8v1h-8zM454 360h10v1h-10zM477 360h7v1h-7zM227 361h2v1h-2zM410 361h8v1h-8zM464 361h13v1h-13zM224 362h3v1h-3zM222 363h2v1h-2zM219 364h3v1h-3zM216 365h3v1h-3zM212 366h4v1h-4zM209 367h3v1h-3zM207 368h2v1h-2zM204 369h3v1h-3zM201 370h3v1h-3zM199 371h2v1h-2zM196 372h3v1h-3zM193 373h3v1h-3zM190 374h3v1h-3zM187 375h3v1h-3zM183 376h4v1h-4zM179 377h4v1h-4zM175 378h4v1h-4zM171 379h4v1h-4zM168 380h3v1h-3zM165 381h3v1h-3zM162 382h3v1h-3zM158 383h4v1h-4zM153 384h5v1h-5zM0 385h29v1h-29zM143 385h10v1h-10zM29 386h36v1h-36zM118 386h25v1h-25zM65 387h53v1h-53z" fill="#00ff00"/>
</g>
<g>
<path d="M123 280h1v9h-1v-3h-5z" fill="#0a82ff"/>
<path d="M159 280h1v9h-1v-3h-5z" fill="#ff3cd2"/>
<path d="M194 280h1v9h-1v-3h-5z" fill="#0a82ff"/>
<path d="M201 280h1v9h-1v-3h-5z" fill="#0a82ff"/>
<path d="M209 280h1v9h-1v-3h-5z" fill="#0a82ff"/>
<path d="M216 280h1v9h-1v-3h-5z" fill="#0a82ff"/>
<path d="M223 280h1v9h-1v-3h-5z" fill="#0a82ff"/>
<path d="M230 280h1v9h-1v-3h-5z" fill="#0a82ff"/>
<path d="M237 280h1v9h-1v-3h-5z" fill="#ff3cd2"/>
<path d="M244 280h1v9h-1v-3h-5z" fill="#0a82ff"/>
<path d="M252 280h1v9h-1v-3h-5z" fill="#0a82ff"/>
<path d="M259 280h1v9h-1v-3h-5z" fill="#0a82ff"/>
<path d="M309 280h1v9h-1v-3h-5z" fill="#ff0000"/>
<path d="M316 280h1v9h-1v-3h-5z" fill="#00ff00"/>
<path d="M416 280h1v9h-1v-3h-5z" fill="#ff3cd2"/>
<path d="M423 280h1v9h-1v-3h-5z" fill="#00ff00"/>
<path d="M430 280h1v9h-1v-3h-5z" fill="#00ff00"/>
<path d="M437 280h1v9h-1v-3h-5z" fill="#ff0000"/>
<path d="M445 280h1v9h-1v-3h-5z" fill="#0a82ff"/>
<path d="M473 280h1v9h-1v-3h-5z" fill="#ff0000"/>
<path d="M487 280h1v9h-1v-3h-5z" fill="#ff3cd2"/>
<path d="M495 280h1v9h-1v-3h-5z" fill="#0a82ff"/>
<path d="M502 280h1v9h-1v-3h-5z" fill="#ff3cd2"/>
<path d="M509 280h1v9h-1v-3h-5z" fill="#00ff00"/>
<path d="M516 280h1v9h-1v-3h-5z" fill="#ff0000"/>
<path d="M523 280h1v9h-1v-3h-5z" fill="#0a82ff"/>
<path d="M530 280h1v9h-1v-3h-5z" fill="#ff0000"/>
<path d="M537 280h1v9h-1v-3h-5z" fill="#0a82ff"/>
<path d="M552 280h1v9h-1v-3h-5z" fill="#00ff00"/>
<path d="M559 280h1v9h-1v-3h-5z" fill="#ff3cd2"/>
<path d="M573 280h1v9h-1v-3h-5z" fill="#0a82ff"/>
</g>
<path d="M167.5 290.3l2.8 6.5h-5.6z" fill="#fff"/>
<g fill="#c8c8c8">
<text x="130.5" y="46.8" font-size="20.5" text-anchor="middle">*</text>
<text x="137.5" y="46.8" font-size="20.5" text-anchor="middle">*</text>
<text x="194.5" y="46.8" font-size="20.5" text-anchor="middle">*</text>
<text x="201.5" y="46.8" font-size="20.5" text-anchor="middle">*</text>
<text x="230.5" y="46.8" font-size="20.5" text-anchor="middle">*</text>
<text x="337.5" y="46.8" font-size="20.5" text-anchor="middle">*</text>
<text x="559.5" y="46.8" font-size="20.5" text-anchor="middle">*</text>
<text x="566.5" y="46.8" font-size="20.5" text-anchor="middle">*</text>
<text x="573.5" y="46.8" font-size="20.5" text-anchor="middle">*</text>
<text x="583.5" y="28" font-size="11.3" textLength="12.5" lengthAdjust="spacingAndGlyphs" transform="translate(0,0)">MA</text>
<text x="476.1 483.1 490.7 496.8 504" y="65" font-size="12.3" style="font-family:'Liberation Sans',sans-serif">32.00</text>
<text x="535" y="310" font-size="12.1" textLength="18" lengthAdjust="spacingAndGlyphs">VOL</text>
<text x="577.2" y="311" font-size="14" font-weight="bold" textLength="6" lengthAdjust="spacingAndGlyphs" style="font-family:'Liberation Sans',sans-serif">?</text>
</g>
<path d="M511 60.5H523M520.2 58.3L523 60.5L520.2 62.7" fill="none" stroke="#bdbdbd" stroke-width="1"/>
<path d="M591.5 301L598.5 309.7M598.5 301L591.5 309.7" fill="none" stroke="#d0d0d0" stroke-width="1.1"/>
<g fill="#bdbdbd"><rect x="562.4" y="299.9" width="2.2" height="11.2" transform="rotate(0 563.5 305.5)"/><rect x="562.4" y="299.9" width="2.2" height="11.2" transform="rotate(45 563.5 305.5)"/><rect x="562.4" y="299.9" width="2.2" height="11.2" transform="rotate(90 563.5 305.5)"/><rect x="562.4" y="299.9" width="2.2" height="11.2" transform="rotate(135 563.5 305.5)"/><circle cx="563.5" cy="305.5" r="4"/></g><circle cx="563.5" cy="305.5" r="1.7" fill="#131313"/>
<text x="417.3" y="237.4" font-size="16" fill="#f01010" style="font-family:'Liberation Sans','Noto Sans CJK SC',sans-serif">300329 <tspan dx="-0.4">海伦钢琴</tspan></text>
</svg></body></html>
